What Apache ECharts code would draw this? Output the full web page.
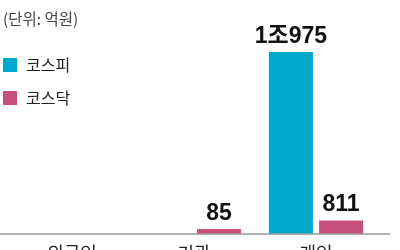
<!DOCTYPE html>
<html><head><meta charset="utf-8">
<script src="https://cdn.jsdelivr.net/npm/echarts@6/dist/echarts.min.js"></script>
<style>html,body{margin:0;padding:0;background:#fff}#c{width:400px;height:250px}</style>
</head><body><div id="c"></div>
<script>
const categories = ['외국인', '기관', '개인'];
const kospi = [null, null, 10975];
const kosdaq = [null, 85, 811];
const seriesNames = ['코스피', '코스닥'];
const unitText = '(단위: 억원)';

const chart = echarts.init(document.getElementById('c'));
const fmt = p => {
  const v = p.value;
  if (v == null) return '';
  return v >= 10000 ? Math.floor(v / 10000) + '조' + (v % 10000) : String(v);
};
const labelStyle = {
  show: true, position: 'top', distance: 4, formatter: fmt,
  fontFamily: '"Liberation Sans Narrow","Liberation Sans","Noto Sans CJK KR",sans-serif',
  fontSize: 23, fontWeight: 'bold', color: '#111'
};
chart.setOption({
  animation: false,
  title: {
    text: unitText, left: 1, top: 9, padding: [2, 2],
    textStyle: { fontSize: 15.5, fontWeight: 'normal', color: '#444', fontFamily: '"Noto Sans CJK KR",sans-serif' }
  },
  legend: {
    orient: 'vertical', left: 3, top: 57, padding: 0, itemWidth: 14, itemHeight: 14, itemGap: 17,
    icon: 'rect', data: seriesNames,
    textStyle: { fontSize: 16, color: '#222', fontFamily: '"Noto Sans CJK KR",sans-serif', padding: [0, 0, 0, 4] }
  },
  grid: { left: 11, right: 23, top: 35, bottom: 16, containLabel: false, outerBoundsMode: 'none' },
  xAxis: {
    type: 'category', data: categories,
    axisLine: { show: false }, axisTick: { show: false },
    axisLabel: { margin: 10, fontSize: 18, color: '#222', fontFamily: '"Noto Sans CJK KR",sans-serif' }
  },
  yAxis: { type: 'value', min: 0, max: 12000, show: false, splitLine: { show: false } },
  graphic: [{
    type: 'line', shape: { x1: 0, y1: 234, x2: 390, y2: 234 },
    style: { stroke: '#9a9a9a', lineWidth: 1.5 }, z: 10
  }],
  series: [
    { name: seriesNames[0], type: 'bar', data: kospi, barWidth: 44, barGap: '14%', barMinHeight: 5,
      itemStyle: { color: '#00a8cc' }, label: labelStyle },
    { name: seriesNames[1], type: 'bar', data: kosdaq, barWidth: 44, barMinHeight: 5,
      itemStyle: { color: '#c64f7b' }, label: labelStyle }
  ]
});
</script></body></html>
